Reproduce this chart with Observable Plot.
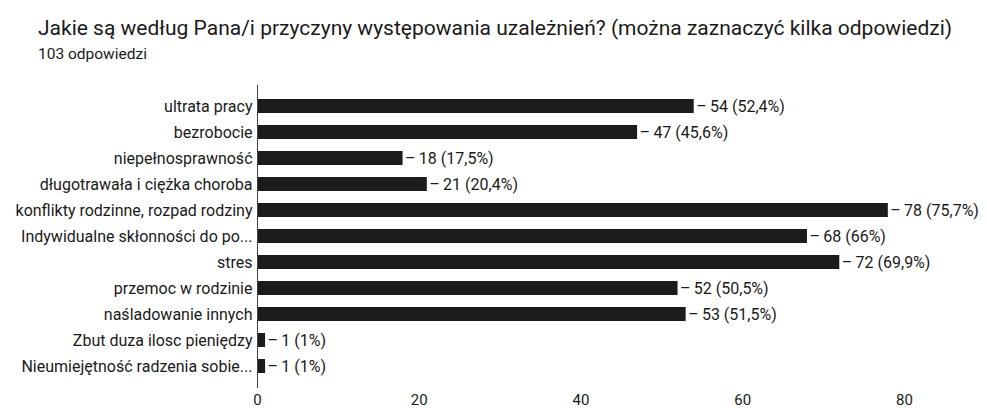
<!DOCTYPE html>
<html><head><meta charset="utf-8">
<script src="https://cdn.jsdelivr.net/npm/d3@7"></script>
<script src="https://cdn.jsdelivr.net/npm/@observablehq/plot@0.6"></script>
<style>
body{margin:0;background:#fff;font-family:Roboto,"Liberation Sans",Arial,sans-serif;color:#1a1a1a;}
#title{position:absolute;left:38px;top:16px;font-size:21px;white-space:nowrap;}
#sub{position:absolute;left:38px;top:45px;font-size:15.5px;white-space:nowrap;}
#chart{position:absolute;left:0;top:70px;}
</style></head><body>
<div id="title">Jakie są według Pana/i przyczyny występowania uzależnień? (można zaznaczyć kilka odpowiedzi)</div>
<div id="sub">103 odpowiedzi</div>
<div id="chart"></div>
<script>
const categories = ["ultrata pracy","bezrobocie","niepełnosprawność","długotrawała i ciężka choroba","konflikty rodzinne, rozpad rodziny","Indywidualne skłonności do po...","stres","przemoc w rodzinie","naśladowanie innych","Zbut duza ilosc pieniędzy","Nieumiejętność radzenia sobie..."];
const counts = [54,47,18,21,78,68,72,52,53,1,1];
const percents = ["52,4%","45,6%","17,5%","20,4%","75,7%","66%","69,9%","50,5%","51,5%","1%","1%"];
const xTicks = [0,20,40,60,80];
const data = categories.map((c,i)=>({cat:c,n:counts[i],p:percents[i]}));
const chart = Plot.plot({
  width: 987, height: 338,
  marginLeft: 257, marginRight: 83, marginTop: 15, marginBottom: 20,
  style:{fontFamily:"Roboto, 'Liberation Sans', Arial, sans-serif", fontSize:"16px", color:"#1a1a1a", background:"#fff"},
  x:{domain:[0,80], ticks: xTicks, label:null, tickSize:0, tickPadding:6},
  y:{domain:categories, padding:0.45, label:null, tickSize:0, tickPadding:5},
  marks:[
    Plot.barX(data,{y:"cat", x:"n", fill:"#1c1c1c"}),
    Plot.ruleX([0],{stroke:"#444", strokeWidth:1}),
    Plot.text(data,{y:"cat", x:"n", text:d=>"–\u2009"+d.n+" ("+d.p+")", textAnchor:"start", dx:2, fill:"#1a1a1a", fontSize:16})
  ]
});
chart.querySelectorAll("[aria-label='x-axis tick label'] text").forEach(t=>t.style.fontSize="15px");
document.getElementById("chart").appendChild(chart);
</script></body></html>
